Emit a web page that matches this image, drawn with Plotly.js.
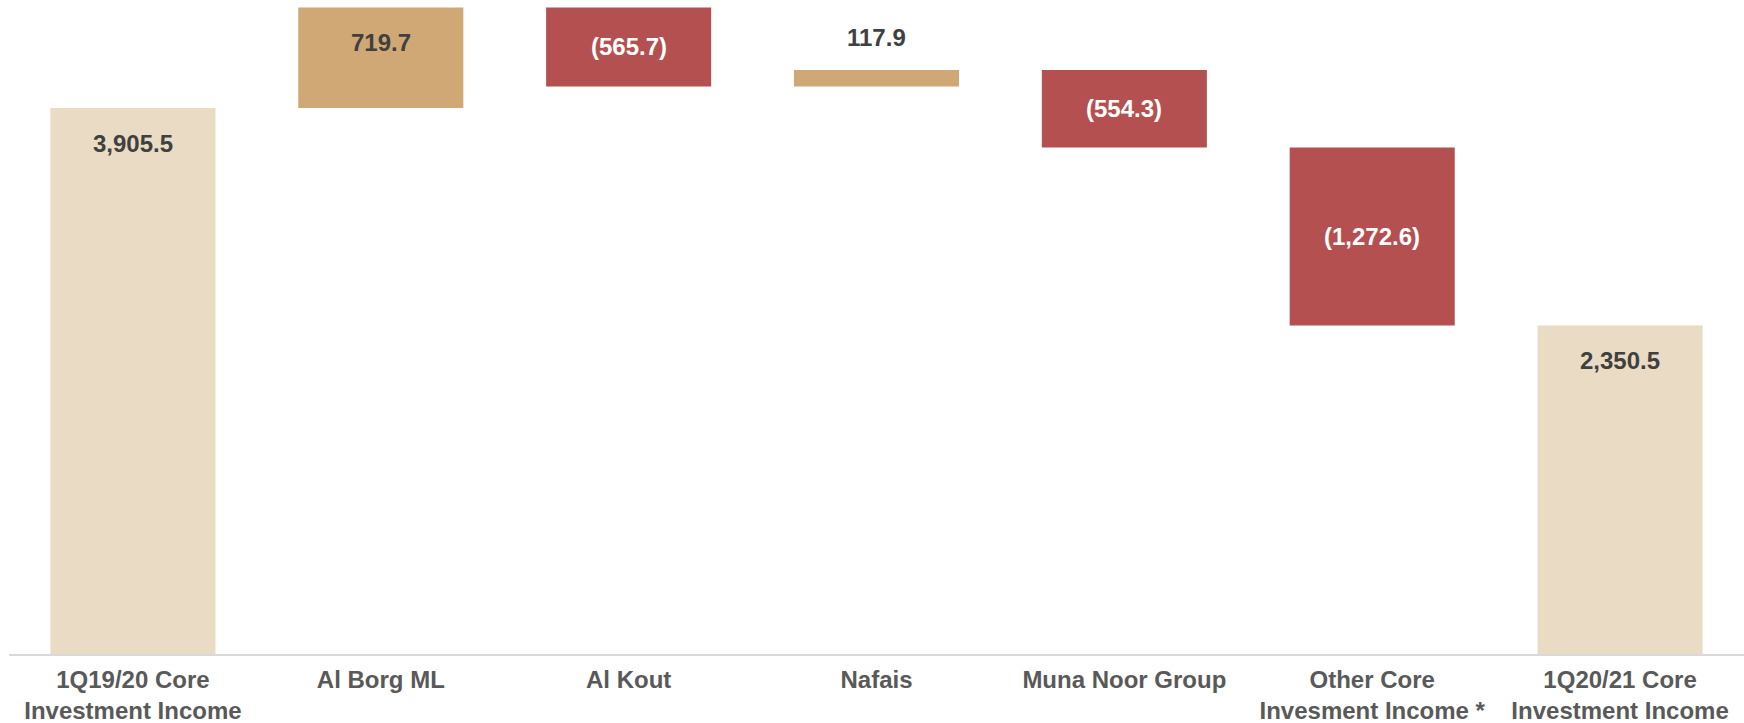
<!DOCTYPE html>
<html>
<head>
<meta charset="utf-8">
<script src="https://cdn.plot.ly/plotly-3.0.1.min.js"></script>
<style>html,body{margin:0;padding:0;background:#fff;}#chart{width:1744px;height:723px;}</style>
</head>
<body>
<div id="chart"></div>
<script>
const categories = ['1Q19/20 Core<br>Investment Income', 'Al Borg ML', 'Al Kout', 'Nafais', 'Muna Noor Group', 'Other Core<br>Invesment Income *', '1Q20/21 Core<br>Investment Income'];
const measures = ['absolute', 'relative', 'relative', 'relative', 'relative', 'relative', 'total'];
const values = [3905.5, 719.7, -565.7, 117.9, -554.3, -1272.6, 2350.5];

const W = 1744, H = 723;
const margin = {l: 9, r: 0, t: 0, b: 69};
const yMax = 4678;
const plotH = H - margin.t - margin.b;
const pxPerUnit = plotH / yMax;

function fmt(v) {
  const s = Math.abs(v).toLocaleString('en-US', {minimumFractionDigits: 1, maximumFractionDigits: 1});
  return v < 0 ? '(' + s + ')' : s;
}

// compute bar extents from data
let run = 0;
const annotations = [];
categories.forEach((c, i) => {
  let lo, hi, v;
  if (measures[i] === 'absolute') { lo = 0; hi = values[i]; run = values[i]; v = values[i]; }
  else if (measures[i] === 'total') { lo = 0; hi = run; v = run; }
  else { v = values[i]; lo = Math.min(run, run + v); hi = Math.max(run, run + v); run += v; }
  const hPx = (hi - lo) * pxPerUnit;
  let ann = {x: c, xref: 'x', yref: 'y', showarrow: false, text: fmt(v),
    font: {family: 'Liberation Sans, Arial, sans-serif', size: 24, weight: 'bold', color: '#404040'}, yanchor: 'middle'};
  if (v < 0 && measures[i] === 'relative') {
    ann.y = (lo + hi) / 2; ann.font.color = '#ffffff';
  } else if (hPx < 50) {
    ann.y = hi; ann.yshift = 32;
  } else {
    ann.y = hi; ann.yshift = -35;
  }
  annotations.push(ann);
});

const trace = {
  type: 'waterfall',
  x: categories,
  y: values,
  measure: measures,
  textposition: 'none',
  hoverinfo: 'none',
  connector: {visible: false},
  increasing: {marker: {color: '#CFA876'}},
  decreasing: {marker: {color: '#B45050'}},
  totals: {marker: {color: '#EADBC4'}}
};

const layout = {
  width: W, height: H,
  margin: margin,
  paper_bgcolor: '#ffffff', plot_bgcolor: '#ffffff',
  showlegend: false,
  waterfallgap: 0.334,
  xaxis: {
    showline: true, linecolor: '#D9D9D9', linewidth: 2,
    showgrid: false, zeroline: false, ticks: '',
    ticklabelstandoff: 3,
    tickfont: {family: 'Liberation Sans, Arial, sans-serif', size: 24, weight: 'bold', color: '#595959'},
    automargin: false
  },
  yaxis: {range: [0, yMax], visible: false, showgrid: false, zeroline: false},
  annotations: annotations
};

Plotly.newPlot('chart', [trace], layout, {displayModeBar: false, staticPlot: true});
</script>
</body>
</html>
